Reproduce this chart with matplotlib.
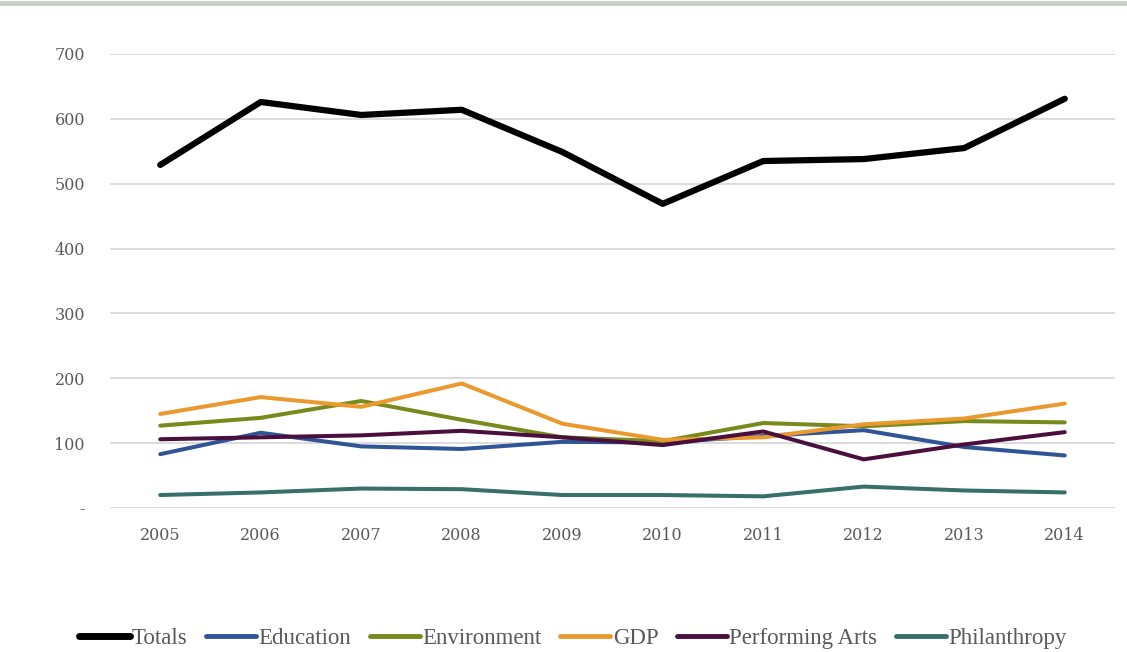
import matplotlib
matplotlib.use('Agg')
import matplotlib.pyplot as plt
from matplotlib.lines import Line2D

years = [2005, 2006, 2007, 2008, 2009, 2010, 2011, 2012, 2013, 2014]
totals = [529, 626, 606, 614, 549, 469, 535, 538, 555, 631]
education = [83, 116, 95, 91, 102, 101, 111, 120, 94, 81]
environment = [127, 139, 165, 136, 109, 103, 131, 126, 134, 132]
gdp = [145, 171, 156, 192, 130, 105, 109, 129, 138, 161]
performing_arts = [106, 109, 112, 119, 109, 97, 118, 75, 98, 117]
philanthropy = [20, 24, 30, 29, 20, 20, 18, 33, 27, 24]

series = [
    ('Totals', totals, '#000000', 4.5),
    ('Education', education, '#2f5597', 2.9),
    ('Environment', environment, '#788a1c', 2.9),
    ('GDP', gdp, '#e9992e', 2.9),
    ('Performing Arts', performing_arts, '#4a0f3c', 2.9),
    ('Philanthropy', philanthropy, '#37706a', 2.9),
]
yticks = [0, 100, 200, 300, 400, 500, 600, 700]
ytick_labels = ['-', '100', '200', '300', '400', '500', '600', '700']

plt.rcParams['font.family'] = ['DejaVu Serif']
txt = '#595959'

fig = plt.figure(figsize=(11.27, 6.52), dpi=100)
ax = fig.add_axes([110/1127, 1 - 508/652, 1005/1127, 454/652])

for name, vals, col, lw in series:
    ax.plot(years, vals, color=col, lw=lw, solid_capstyle='round', solid_joinstyle='round', label=name, zorder=3)

ax.set_xlim(2004.5, 2014.5)
ax.set_ylim(0, 700)
ax.set_yticks(yticks)
ax.set_yticklabels(ytick_labels)
ax.set_xticks(years)
ax.set_xticklabels([str(y) for y in years])
ax.grid(axis='y', color='#d9d9d9', lw=1.3, zorder=0)
ax.set_axisbelow(True)
for s in ax.spines.values():
    s.set_visible(False)
ax.tick_params(axis='both', length=0, colors=txt, labelsize=11.5)
ax.tick_params(axis='y', pad=18)
ax.tick_params(axis='x', pad=14)

handles = [Line2D([0], [0], color=c, solid_capstyle='round') for _, _, c, _ in series]
handles[0].set_linewidth(5)
for h in handles[1:]:
    h.set_linewidth(3.5)
leg = fig.legend(handles, [s[0] for s in series], loc='center', bbox_to_anchor=(573/1127, 1 - 638/652),
                 ncol=6, frameon=False, handlelength=2.2, handletextpad=0.1, columnspacing=0.8,
                 labelcolor=txt, prop={'family': 'Liberation Serif', 'size': 16.5})

fig.add_artist(Line2D([0, 1], [1 - 2.5/652, 1 - 2.5/652], color='#c8d3c8', lw=3.5, transform=fig.transFigure))

fig.savefig('out.png', dpi=100)
